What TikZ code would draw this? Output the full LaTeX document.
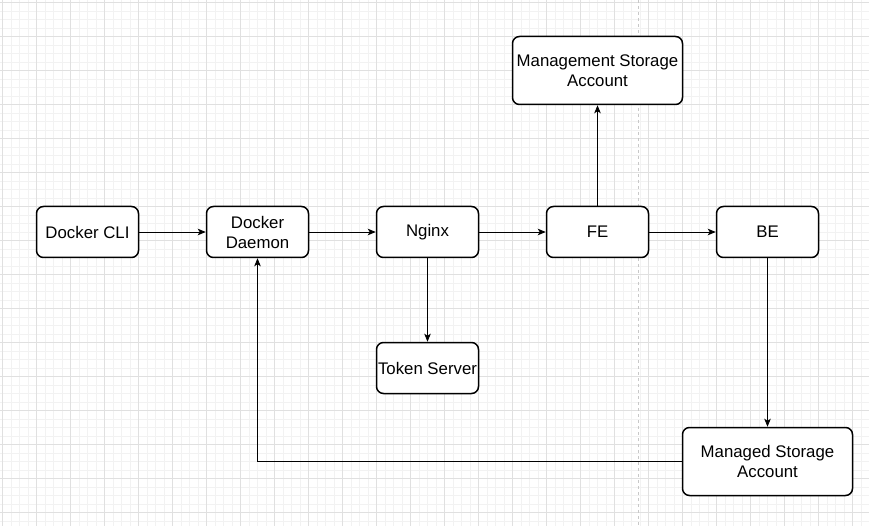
\documentclass[tikz,border=0pt]{standalone}
\usepackage{fontspec}
\setmainfont{Liberation Sans}
\usetikzlibrary{arrows.meta}
\definecolor{color_page_bg}{HTML}{FFFFFF}
\definecolor{color_grid_minor}{HTML}{F2F2F2}
\definecolor{color_grid_major}{HTML}{E0E0E0}
\definecolor{color_page_break}{HTML}{C8C8C8}
\definecolor{color_box_line}{HTML}{000000}
\definecolor{color_flow}{HTML}{000000}
\def\boxfontsize{\fontsize{16.8}{20}\selectfont}
\tikzset{
    svc_box/.style={draw=color_box_line, fill=white, line width=1.5pt,
        rounded corners=7pt, minimum width=102pt, minimum height=51pt,
        align=center, inner sep=0pt, font=\boxfontsize},
    svc_box_wide/.style={svc_box, minimum width=170pt, minimum height=68pt},
    flow_arrow/.style={draw=color_flow, line width=0.9pt,
        -{Stealth[length=8pt,width=6.5pt,inset=2pt]}}
}

\begin{document}
\begin{tikzpicture}[x=1pt,y=1pt]
    \useasboundingbox (-2.5,2.5) rectangle (866.5,-523.5);
    \fill[color_page_bg] (-2.5,2.5) rectangle (866.5,-523.5);
    \draw[step=8.5pt,color_grid_minor,line width=0.6pt] (-2.5,2.5) grid (866.5,-523.5);
    \draw[step=34pt,color_grid_major,line width=0.8pt] (-2.5,2.5) grid (866.5,-523.5);
    % page break
    \draw[color_page_break,line width=0.8pt,dash pattern=on 3pt off 3pt] (636,2.5) -- (636,-523.5);

    % services
    \node[svc_box] (cli) at (85,-229.5) {Docker CLI};
    \node[svc_box] (daemon) at (255,-229.5) {Docker\\Daemon};
    \node[svc_box] (nginx) at (425,-229.5) {Nginx};
    \node[svc_box] (fe) at (595,-229.5) {FE};
    \node[svc_box] (be) at (765,-229.5) {BE};
    \node[svc_box] (token) at (425,-365.5) {Token Server};
    \node[svc_box_wide] (mgmt) at (595,-68) {Management Storage\\Account};
    \node[svc_box_wide] (managed) at (765,-459) {Managed Storage\\Account};

    % flows
    \draw[flow_arrow] (cli) -- (daemon);
    \draw[flow_arrow] (daemon) -- (nginx);
    \draw[flow_arrow] (nginx) -- (fe);
    \draw[flow_arrow] (fe) -- (be);
    \draw[flow_arrow] (fe) -- (mgmt);
    \draw[flow_arrow] (nginx) -- (token);
    \draw[flow_arrow] (be) -- (managed);
    \draw[flow_arrow] (managed.west) -| (daemon.south);
\end{tikzpicture}
\end{document}
